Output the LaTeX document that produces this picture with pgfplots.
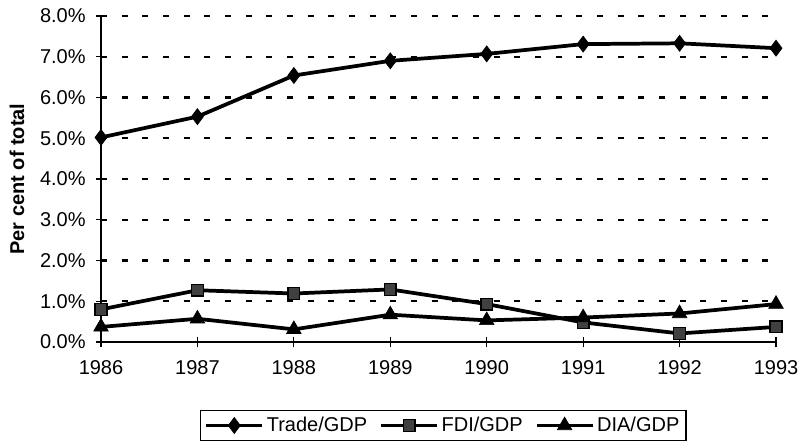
\documentclass[border=0pt]{standalone}
\usepackage{pgfplots}
\pgfplotsset{compat=1.18}
\usepackage{fontspec}
\setmainfont{Liberation Sans}
\begin{document}
\begin{tikzpicture}
\begin{axis}[
  scale only axis,
  width=506.25pt, height=244.5pt,
  xmin=1986, xmax=1993, ymin=0, ymax=8,
  axis lines*=left,
  axis line style={line width=1.1pt},
  xtick={1986,1987,1988,1989,1990,1991,1992,1993},
  xticklabels={1986,1987,1988,1989,1990,1991,1992,1993},
  ytick={0,1,2,3,4,5,6,7,8},
  yticklabels={0.0\%,1.0\%,2.0\%,3.0\%,4.0\%,5.0\%,6.0\%,7.0\%,8.0\%},
  tick align=center,
  major tick length=8pt,
  tick style={line width=0.9pt,black},
  tick label style={font=\fontsize{15}{18}\selectfont},
  xticklabel style={yshift=-6pt},
  yticklabel style={xshift=-4pt},
  /pgf/number format/assume math mode=true,
  ymajorgrids,
  grid style={line width=1.6pt, dash pattern=on 4.5pt off 11pt, black},
  clip=false,
  every axis y label/.style={at={(axis description cs:-0.1244,0.5)}, rotate=90, anchor=center, font=\fontsize{15}{18}\selectfont\bfseries},
  ylabel={Per cent of total},
  legend columns=3,
  legend style={at={(axis description cs:0.507,-0.2086)}, anchor=north, draw=black, line width=0.9pt,
    font=\fontsize{15}{18}\selectfont, inner xsep=3pt, inner ysep=3pt,
    /tikz/every even column/.append style={column sep=7pt}},
  legend image code/.code={\draw[mark repeat=2,mark phase=2,#1] plot coordinates {(0pt,0pt)(21pt,0pt)(42pt,0pt)};},
]
\addplot[black, line width=2.8pt, mark=diamond*, mark size=6pt, mark options={solid, line width=0.5pt}] coordinates {
(1986,5.02) (1987,5.53) (1988,6.54) (1989,6.90) (1990,7.07) (1991,7.31) (1992,7.33) (1993,7.21)};
\addlegendentry{Trade/GDP}
\addplot[black, line width=2.8pt, mark=square*, mark size=4.4pt, mark options={solid, fill=black!75, draw=black, line width=1pt}] coordinates {
(1986,0.80) (1987,1.27) (1988,1.19) (1989,1.29) (1990,0.93) (1991,0.48) (1992,0.21) (1993,0.37)};
\addlegendentry{FDI/GDP}
\addplot[black, line width=2.8pt, mark=triangle*, mark size=6.3pt, mark options={solid, line width=0.5pt}] coordinates {
(1986,0.37) (1987,0.57) (1988,0.31) (1989,0.67) (1990,0.53) (1991,0.60) (1992,0.70) (1993,0.93)};
\addlegendentry{DIA/GDP}
\end{axis}
\pgfresetboundingbox
\path ([shift={(-75.75pt,-75.75pt)}]current axis.south west) rectangle ([shift={(16.5pt,12pt)}]current axis.north east);
\end{tikzpicture}
\end{document}
